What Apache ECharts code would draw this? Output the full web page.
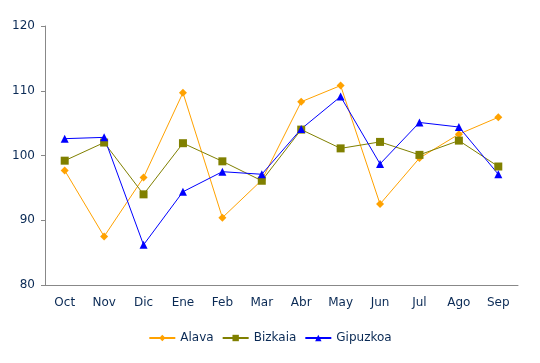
<!DOCTYPE html>
<html><head><meta charset="utf-8">
<script src="https://cdn.jsdelivr.net/npm/echarts@6/dist/echarts.min.js"></script>
<style>html,body{margin:0;padding:0;background:#fff}#c{width:540px;height:363px}</style>
</head><body><div id="c"></div>
<script>
const categories = ['Oct','Nov','Dic','Ene','Feb','Mar','Abr','May','Jun','Jul','Ago','Sep'];
const alava    = [97.7, 87.5, 96.6, 109.7, 90.4, 96.2, 108.3, 110.8, 92.5, 99.6, 103.3, 105.9];
const bizkaia  = [99.2, 102.0, 94.0, 101.9, 99.1, 96.1, 104.0, 101.1, 102.1, 100.1, 102.3, 98.3];
const gipuzkoa = [102.6, 102.8, 86.2, 94.4, 97.5, 97.1, 104.1, 109.1, 98.7, 105.1, 104.4, 97.1];
const seriesNames = ['Alava','Bizkaia','Gipuzkoa'];
const yMin = 80, yMax = 120, yStep = 10;

const txt = '#0a2a55';
const font = 'DejaVu Sans';
function s(name, data, color, symbol, size) {
  return { name, type:'line', data, symbol, symbolSize:size, showSymbol:true,
    lineStyle:{color, width:1}, itemStyle:{color}, animation:false };
}
const chart = echarts.init(document.getElementById('c'));
chart.setOption({
  backgroundColor:'#fff',
  animation:false,
  grid:{left:45, right:22, top:26, bottom:78},
  xAxis:{type:'category', data:categories, boundaryGap:true,
    axisLine:{lineStyle:{color:'#888', width:1}}, axisTick:{show:false},
    axisLabel:{color:txt, fontFamily:font, fontSize:12, margin:12}},
  yAxis:{type:'value', min:yMin, max:yMax, interval:yStep,
    axisLine:{show:true, lineStyle:{color:'#888', width:1}},
    axisTick:{show:true, length:4, lineStyle:{color:'#888'}},
    splitLine:{show:false},
    axisLabel:{color:txt, fontFamily:font, fontSize:12, margin:10}},
  legend:{bottom:14, left:'center', itemWidth:26, itemHeight:8, itemGap:8,
    textStyle:{color:txt, fontFamily:font, fontSize:12},
    data:seriesNames},
  series:[
    s(seriesNames[0], alava, '#FFA200', 'diamond', 8),
    s(seriesNames[1], bizkaia, '#808000', 'rect', 8),
    s(seriesNames[2], gipuzkoa, '#0000FF', 'triangle', 8)
  ]
});
</script></body></html>
